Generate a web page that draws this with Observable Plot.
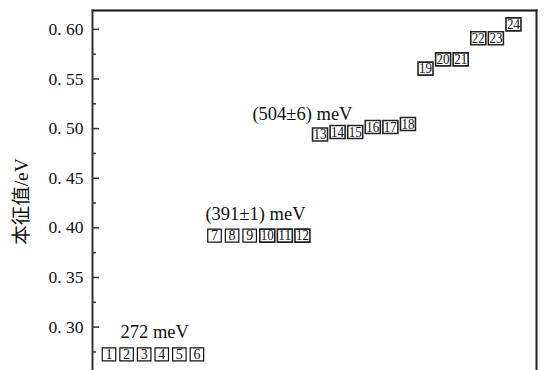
<!DOCTYPE html>
<html>
<head>
<meta charset="utf-8">
<script src="https://cdn.jsdelivr.net/npm/d3@7"></script>
<script src="https://cdn.jsdelivr.net/npm/@observablehq/plot@0.6"></script>
<style>
  html, body { margin: 0; padding: 0; background: #fff; }
  #chart { width: 545px; height: 370px; overflow: hidden; }
  #chart svg, #chart svg text { font-family: 'Liberation Serif', 'Noto Sans CJK SC', serif; }
</style>
</head>
<body>
<div id="chart"></div>
<script>
// Eigenvalue index and eigenvalue (eV)
const indices = [1,2,3,4,5,6,7,8,9,10,11,12,13,14,15,16,17,18,19,20,21,22,23,24];
const energies = [
  0.2725,0.2725,0.2725,0.2725,0.2725,0.2725,
  0.3922,0.3922,0.3922,0.3922,0.3922,0.3922,
  0.4940,0.4966,0.4966,0.5017,0.5017,0.5047,
  0.5604,0.5698,0.5698,0.5910,0.5910,0.6050
];
// Group annotations
const groupLabels = ["272 meV", "(391±1) meV", "(504±6) meV"];
const groupX = [3.6, 9.33, 12];
const groupY = [0.2950, 0.4134, 0.5145];
// Axis ticks
const majorTicks = [0.30, 0.35, 0.40, 0.45, 0.50, 0.55, 0.60];
const minorTicks = [0.275, 0.325, 0.375, 0.425, 0.475, 0.525, 0.575];
const yLabel = "本征值/eV";

const points = indices.map((n, i) => ({n, e: energies[i]}));
const single = points.filter(d => d.n < 10);
const double = points.filter(d => d.n >= 10);
const groups = groupLabels.map((t, i) => ({t, x: groupX[i], y: groupY[i]}));

const rectSymbol = (w, h) => ({draw(ctx) { ctx.rect(-w / 2, -h / 2, w, h); }});
const serif = "'Liberation Serif','Noto Sans CJK SC',serif";

const chart = Plot.plot({
  width: 545,
  height: 370,
  marginLeft: 92,
  marginRight: 9,
  marginTop: 10,
  marginBottom: 0,
  style: {fontFamily: serif, fontSize: "16px", color: "#111", background: "#fff"},
  x: {domain: [0.062, 25.31], axis: null},
  y: {domain: [0.2563, 0.619], axis: null},
  marks: [
    Plot.frame({anchor: "top", stroke: "#111", strokeWidth: 2}),
    Plot.frame({anchor: "right", stroke: "#222", strokeWidth: 2}),
    Plot.frame({anchor: "left", stroke: "#333", strokeWidth: 2}),
    Plot.axisY({ticks: majorTicks, tickSize: 7, dx: 7, fill: "none", stroke: "#333", strokeWidth: 1.5}),
    Plot.axisY({ticks: minorTicks, tickSize: 4, dx: 4, fill: "none", stroke: "#333", strokeWidth: 1.5}),
    Plot.axisY({ticks: majorTicks, tickSize: 0, tickPadding: 9, label: null, fontFamily: serif,
      tickFormat: d => d.toFixed(2).replace(".", ". "), fontSize: 17.5, fill: "#111"}),
    Plot.text([yLabel], {frameAnchor: "left", text: d => d, rotate: -90, textAnchor: "middle",
      dx: -71, dy: 11, fontSize: 19.5, fontFamily: serif, fill: "#111"}),
    Plot.text(groups, {x: "x", y: "y", text: "t", fontSize: 18.5, fontFamily: serif, fill: "#111"}),
    Plot.dot(single, {x: "n", y: "e", symbol: rectSymbol(13.5, 13), fill: "#fff", stroke: "#111", strokeWidth: 1.2}),
    Plot.dot(double, {x: "n", y: "e", symbol: rectSymbol(15, 13), fill: "#fff", stroke: "#222", strokeWidth: 1.6}),
    Plot.text(single, {x: "n", y: "e", text: d => String(d.n), fontSize: 14, fontFamily: serif, fill: "#111"}),
    Plot.text(double, {x: "n", y: "e", text: d => String(d.n), fontSize: 14.5, fontFamily: serif, fill: "#111", className: "dbl"})
  ]
});
document.getElementById("chart").appendChild(chart);
// compress two-digit labels to fit their boxes
chart.querySelectorAll(".dbl text").forEach(t => {
  t.setAttribute("textLength", "13");
  t.setAttribute("lengthAdjust", "spacingAndGlyphs");
});
</script>
</body>
</html>
